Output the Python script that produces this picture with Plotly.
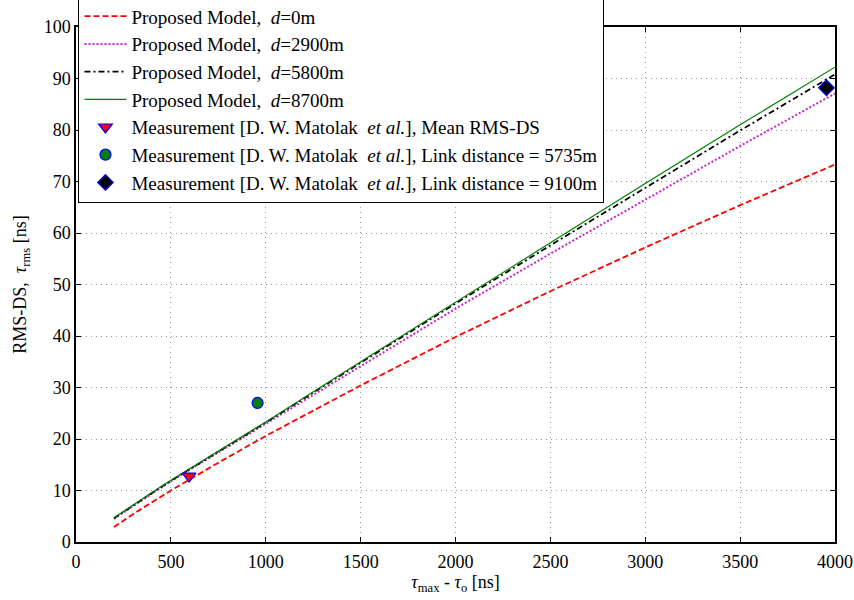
import plotly.graph_objects as go

# Model curves
x_model = [200, 300, 400, 500, 750, 1000, 1500, 2000, 2500, 3000, 3500, 4000]
y_d0    = [2.9, 5.4, 7.7, 10.0, 15.4, 20.6, 30.4, 39.8, 48.7, 57.2, 65.4, 73.3]
y_d2900 = [4.5, 7.0, 9.4, 11.8, 17.4, 23.0, 34.2, 45.3, 56.0, 66.5, 76.9, 87.1]
y_d5800 = [4.6, 7.1, 9.5, 11.9, 17.6, 23.2, 34.8, 46.3, 57.6, 68.8, 79.9, 90.8]
y_d8700 = [4.7, 7.2, 9.6, 12.0, 17.7, 23.3, 35.0, 46.6, 58.1, 69.6, 81.0, 92.2]

# Measurements
meas_mean_x, meas_mean_y = [596], [12.8]
meas_5735_x, meas_5735_y = [957], [27.0]
meas_9100_x, meas_9100_y = [3955], [88.2]

x_ticks = [0, 500, 1000, 1500, 2000, 2500, 3000, 3500, 4000]
y_ticks = [0, 10, 20, 30, 40, 50, 60, 70, 80, 90, 100]

NB = "\u00a0"
FONT = "Liberation Serif, Times New Roman, serif"

fig = go.Figure()
lines = [
    (y_d0, "#ff0000", "6px,3px", 1.8, "0m"),
    (y_d2900, "#cc22cc", "2px,2px", 2.0, "2900m"),
    (y_d5800, "#000000", "6px,3px,2px,3px", 1.8, "5800m"),
    (y_d8700, "#008000", "solid", 1.2, "8700m"),
]
for i, (ys, col, dash, w, lab) in enumerate(lines):
    fig.add_trace(go.Scatter(
        x=x_model, y=ys, mode="lines",
        line=dict(color=col, dash=dash, width=w),
        name=f"Proposed Model,{NB}{NB}<i>d</i>={lab}",
        legendgroup=f"g{i}",
    ))

marks = [
    (meas_mean_x, meas_mean_y, "triangle-down", "#ff0000", 12, "Mean RMS-DS"),
    (meas_5735_x, meas_5735_y, "circle", "#008000", 11, "Link distance = 5735m"),
    (meas_9100_x, meas_9100_y, "diamond", "#000000", 12, "Link distance = 9100m"),
]
for j, (xs, ys, sym, fc, sz, lab) in enumerate(marks):
    fig.add_trace(go.Scatter(
        x=xs, y=ys, mode="markers",
        marker=dict(symbol=sym, color=fc, size=sz, line=dict(color="#0000ff", width=1.2)),
        name=f"Measurement [D. W. Matolak{NB}{NB}<i>et al.</i>], {lab}",
        legendgroup=f"m{j}",
    ))

axis_common = dict(
    showline=True, linecolor="black", linewidth=1.5, mirror="ticks",
    ticks="inside", ticklen=5, tickcolor="black", tickwidth=1,
    showgrid=True, gridcolor="#999999", griddash="1px,4px", gridwidth=1,
    zeroline=False,
    tickfont=dict(family=FONT, size=18, color="black"),
)

fig.update_layout(
    width=854, height=600,
    margin=dict(l=76, r=19, t=27, b=58, autoexpand=False),
    paper_bgcolor="white", plot_bgcolor="white",
    font=dict(family=FONT, size=18, color="black"),
    xaxis=dict(range=[0, 4000], tickvals=x_ticks, ticktext=[str(v) for v in x_ticks],
               ticklabelstandoff=3,
               title=dict(text="<i>τ</i><sub>max</sub> - <i>τ</i><sub>o</sub> [ns]",
                          font=dict(family=FONT, size=18), standoff=0),
               **axis_common),
    yaxis=dict(range=[0, 100], tickvals=y_ticks, ticktext=[str(v) for v in y_ticks],
               title=dict(text=f"RMS-DS,{NB}{NB}<i>τ</i><sub>rms</sub> [ns]",
                          font=dict(family=FONT, size=18), standoff=12),
               **axis_common),
    legend=dict(
        x=0.003, y=0.658, xanchor="left", yanchor="bottom",
        bgcolor="white", bordercolor="black", borderwidth=1.2,
        font=dict(family=FONT, size=19, color="black"),
        traceorder="grouped", tracegroupgap=0, itemwidth=42,
    ),
    showlegend=True,
)

fig.write_html("out.html")
